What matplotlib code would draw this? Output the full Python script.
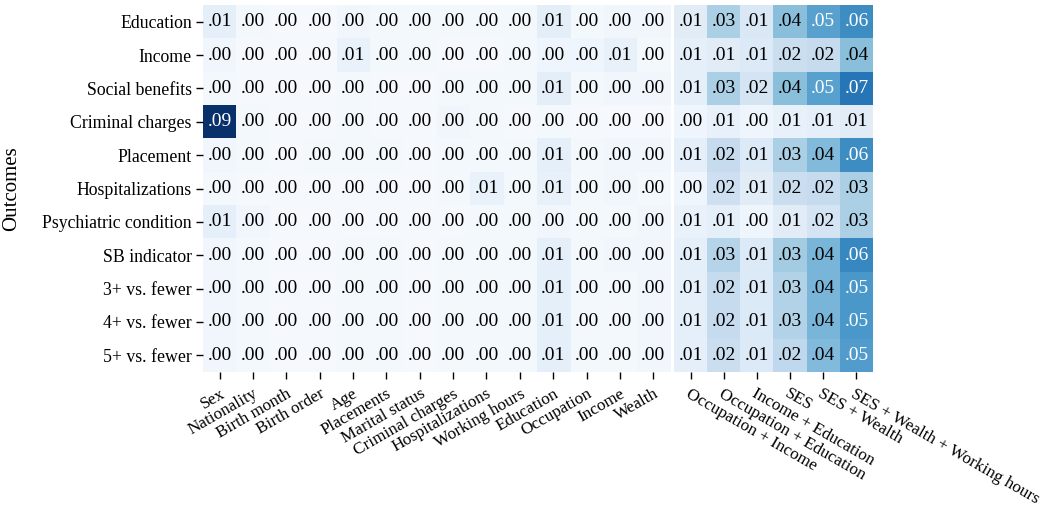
import numpy as np
import matplotlib.pyplot as plt

plt.rcParams['font.family'] = ['Liberation Serif', 'DejaVu Serif']

outcomes = ["Education", "Income", "Social benefits", "Criminal charges", "Placement",
            "Hospitalizations", "Psychiatric condition", "SB indicator",
            "3+ vs. fewer", "4+ vs. fewer", "5+ vs. fewer"]

single = ["Sex", "Nationality", "Birth month", "Birth order", "Age", "Placements",
          "Marital status", "Criminal charges", "Hospitalizations", "Working hours",
          "Education", "Occupation", "Income", "Wealth"]

combined = ["Occupation + Income", "Occupation + Education", "Income + Education",
            "SES", "SES + Wealth", "SES + Wealth + Working hours"]

# explained variance per outcome, single predictors
r2_single = np.array([
    [.008, .002, .001, .001, .003, .002, .002, .002, .002, .002, .009, .002, .003, .003],
    [.003, .001, .001, .001, .006, .002, .002, .001, .001, .002, .004, .004, .007, .002],
    [.002, .001, .001, .001, .002, .001, .001, .002, .002, .002, .009, .002, .003, .003],
    [.090, .002, .001, .001, .002, .001, .001, .003, .002, .001, .002, .001, .001, .001],
    [.003, .002, .001, .002, .002, .002, .001, .002, .002, .002, .008, .002, .003, .003],
    [.002, .001, .001, .001, .001, .001, .001, .002, .006, .002, .007, .002, .003, .002],
    [.008, .003, .001, .001, .001, .001, .001, .001, .002, .002, .003, .002, .002, .003],
    [.003, .002, .001, .001, .002, .002, .001, .002, .002, .002, .008, .002, .003, .003],
    [.003, .002, .001, .001, .002, .002, .001, .002, .002, .002, .008, .002, .002, .003],
    [.003, .002, .001, .001, .002, .002, .001, .002, .002, .002, .008, .002, .002, .003],
    [.003, .002, .001, .001, .002, .002, .001, .002, .002, .002, .008, .002, .002, .003],
])

# explained variance per outcome, combined predictor sets
r2_combined = np.array([
    [.010, .030, .013, .038, .050, .058],
    [.008, .010, .012, .020, .022, .038],
    [.008, .030, .016, .038, .050, .066],
    [.004, .007, .004, .007, .008, .010],
    [.008, .022, .012, .030, .040, .058],
    [.004, .019, .010, .020, .022, .030],
    [.006, .008, .004, .010, .016, .030],
    [.008, .027, .012, .032, .042, .060],
    [.008, .022, .012, .028, .042, .054],
    [.008, .022, .012, .028, .042, .054],
    [.008, .020, .012, .024, .040, .052],
])

vmax = 0.09
fig = plt.figure(figsize=(10.46, 5.11), dpi=100)
ax1 = fig.add_axes([0.194, 0.272, 0.4465, 0.718])
ax2 = fig.add_axes([0.6444, 0.272, 0.1902, 0.718])


def draw(ax, data, cols, rot, ha):
    ax.imshow(data, cmap="Blues", vmin=0, vmax=vmax, aspect="auto",
              interpolation="nearest")
    for i in range(data.shape[0]):
        for j in range(data.shape[1]):
            v = data[i, j]
            txt = f"{v:.2f}".lstrip("0")
            ax.text(j, i, txt, ha="center", va="center", fontsize=14,
                    color="white" if v / vmax > 0.5 else "black")
    ax.set_xticks(range(len(cols)))
    ax.set_xticklabels(cols, rotation=rot, ha=ha, rotation_mode="anchor",
                       fontsize=12.3)
    for s in ax.spines.values():
        s.set_visible(False)
    ax.tick_params(axis="x", length=5, width=1, pad=5)


draw(ax1, r2_single, single, 30, "right")
draw(ax2, r2_combined, combined, -30, "left")

ax1.set_yticks(range(len(outcomes)))
ax1.set_yticklabels(outcomes, fontsize=12.8)
ax1.tick_params(axis="y", length=5, width=1, pad=3)
ax1.set_ylabel("Outcomes", fontsize=15, labelpad=6)
ax1.yaxis.set_label_coords(-0.39, 0.5)
ax2.set_yticks([])

fig.savefig("out.png", dpi=100)
